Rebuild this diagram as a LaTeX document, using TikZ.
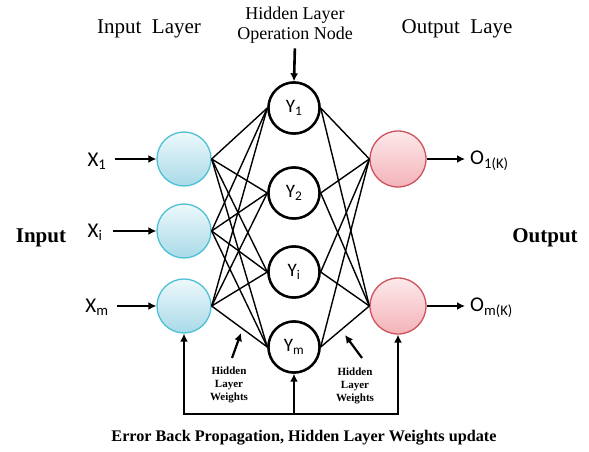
\documentclass[tikz,border=0pt]{standalone}
\usepackage{fontspec}
\setmainfont{Liberation Serif}
\newfontfamily\calib{Carlito}
\usetikzlibrary{arrows.meta}
\definecolor{inborder}{HTML}{4CC0D4}
\definecolor{intop}{HTML}{EDF8FB}
\definecolor{inbot}{HTML}{A8DAE8}
\definecolor{outborder}{HTML}{CF535D}
\definecolor{outtop}{HTML}{FDE9EB}
\definecolor{outbot}{HTML}{F3B3B8}
\tikzset{
  inneuron/.style={circle, minimum size=54pt, inner sep=0pt, draw=inborder, line width=1.3pt, top color=intop, bottom color=inbot},
  outneuron/.style={circle, minimum size=56pt, inner sep=0pt, draw=outborder, line width=1.3pt, top color=outtop, bottom color=outbot},
  hidneuron/.style={circle, minimum size=51pt, inner sep=0pt, draw=black, line width=2.4pt, fill=white, font=\calib\fontsize{19}{21}\selectfont},
  vlabel/.style={font=\calib\fontsize{21}{23}\selectfont, inner sep=1pt},
  title/.style={font=\fontsize{21}{24}\selectfont, align=center, inner sep=0pt},
  wlabel/.style={font=\bfseries\fontsize{11}{13}\selectfont, align=center, inner sep=0pt},
  big/.style={font=\bfseries\fontsize{21}{24}\selectfont, inner sep=0pt},
  arr/.style={-{Latex[length=8pt,width=8pt]}, line width=2.6pt},
  conn/.style={line width=1.4pt},
}
\begin{document}
\begin{tikzpicture}[x=1pt,y=-1pt]
\useasboundingbox (0,0) rectangle (589,452);
% input layer
\node[inneuron] (in1) at (184,159) {};
\node[inneuron] (in2) at (184,231) {};
\node[inneuron] (in3) at (184,306) {};
% hidden layer
\node[hidneuron] (h1) at (294,108) {Y\textsubscript{1}};
\node[hidneuron] (h2) at (294,193) {Y\textsubscript{2}};
\node[hidneuron] (h3) at (294,272) {Y\textsubscript{i}};
\node[hidneuron] (h4) at (294,347) {Y\textsubscript{m}};
% output layer
\node[outneuron] (o1) at (398,159) {};
\node[outneuron] (o2) at (398,306) {};
% connections
\foreach \i in {1,2,3}{
  \foreach \j in {1,2,3,4}{
    \draw[conn] (in\i.east) -- (h\j.west);
  }
}
\foreach \j in {1,2,3,4}{
  \foreach \k in {1,2}{
    \draw[conn] (h\j.east) -- (o\k.west);
  }
}
% redraw hidden nodes on top
\node[hidneuron] at (h1) {Y\textsubscript{1}};
\node[hidneuron] at (h2) {Y\textsubscript{2}};
\node[hidneuron] at (h3) {Y\textsubscript{i}};
\node[hidneuron] at (h4) {Y\textsubscript{m}};
% input labels
\node[vlabel] (x1) at (97,161) {X\textsubscript{1}};
\node[vlabel] (x2) at (95,232) {X\textsubscript{i}};
\node[vlabel] (x3) at (97,307) {X\textsubscript{m}};
\draw[arr, shorten <=7pt] (x1.east |- in1.west) -- (in1.west);
\draw[arr, shorten <=9pt] (x2.east |- in2.west) -- (in2.west);
\draw[arr, shorten <=7pt] (x3.east |- in3.west) -- (in3.west);
% output labels
\node[vlabel, anchor=west] (y1) at (469,161) {O\textsubscript{1(K)}};
\node[vlabel, anchor=west] (y2) at (469,308) {O\textsubscript{m(K)}};
\draw[arr, shorten >=4pt] (o1.east) -- (y1.west |- o1.east);
\draw[arr, shorten >=4pt] (o2.east) -- (y2.west |- o2.east);
% titles
\node[title] (tin) at (149,29) {Input\ \ Layer};
\node[title, font=\fontsize{18}{20}\selectfont] (thid) at (295,25) {Hidden Layer\\Operation Node};
\node[title] (tout) at (457,29) {Output\ \ Laye};
\draw[arr, shorten <=5pt] (thid.south) -- (h1.north);
\node[big] (tinput) at (41,238) {Input};
\node[big] (toutput) at (545,238) {Output};
% hidden layer weight labels
\node[wlabel] (w1) at (229,385) {Hidden\\Layer\\Weights};
\node[wlabel] (w2) at (355,386) {Hidden\\Layer\\Weights};
\coordinate (w1s) at (232,358);
\coordinate (w1tip) at (241,333);
\coordinate (w2s) at (362,358);
\coordinate (w2tip) at (345,335);
\draw[arr, line width=2.2pt] (w1s) -- (w1tip);
\draw[arr, line width=2.2pt] (w2s) -- (w2tip);
% feedback
\coordinate (fbL) at (184,414);
\coordinate (fbM) at (294,414);
\coordinate (fbR) at (398,414);
\draw[line width=2.6pt, line cap=rect] (fbL) -- (fbR);
\draw[arr] (fbL) -- (in3.south);
\draw[arr] (fbM) -- (h4.south);
\draw[arr] (fbR) -- (o2.south);
\node[font=\bfseries\fontsize{16.2}{19}\selectfont, inner sep=0pt] (err) at (304,438) {Error Back Propagation, Hidden Layer Weights update};
\end{tikzpicture}
\end{document}
